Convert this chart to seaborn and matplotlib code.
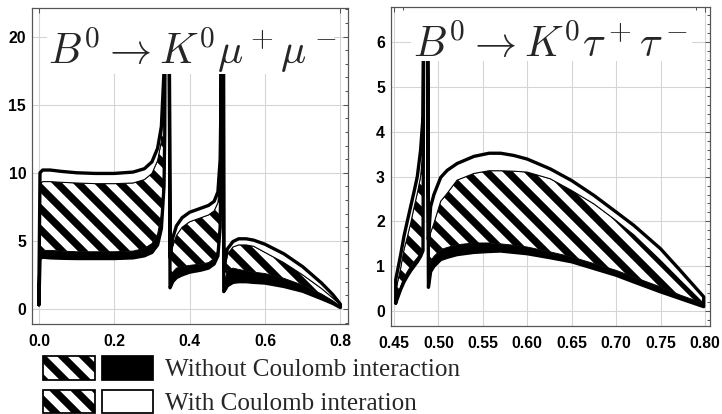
import numpy as np
import matplotlib
matplotlib.use('Agg')
import matplotlib.pyplot as plt
from matplotlib.patches import Patch, Rectangle
from matplotlib.legend_handler import HandlerTuple
from matplotlib.ticker import MultipleLocator
import seaborn as sns

# ---- left panel: B0 -> K0 mu+ mu- ----
# u2 = top of "with Coulomb" band, u1 = top of "without" band,
# l2 = bottom of "with" band, l1 = bottom of "without" band
mu_x = [0.000, 0.003, 0.010, 0.030, 0.060, 0.100, 0.150, 0.200, 0.250, 0.280,
        0.300, 0.315, 0.325, 0.332, 0.334, 0.337, 0.343, 0.348, 0.355, 0.365,
        0.380, 0.400, 0.430, 0.450, 0.465, 0.475, 0.481, 0.4835, 0.4855, 0.4885,
        0.4905, 0.495, 0.500, 0.515, 0.530, 0.550, 0.570, 0.600, 0.650, 0.700,
        0.750, 0.780, 0.800]
mu_u2 = [1.5, 10.0, 10.2, 10.2, 10.1, 10.0, 9.95, 9.95, 10.05, 10.3,
         10.8, 11.8, 13.4, 17.5, 22.0, 45.0, 45.0, 3.8, 5.2, 6.1,
         6.7, 7.1, 7.4, 7.6, 7.9, 8.6, 11.0, 16.0, 45.0, 45.0,
         3.0, 3.6, 4.4, 4.95, 5.15, 5.15, 5.05, 4.75, 4.05, 3.1,
         1.9, 1.05, 0.35]
mu_u1 = [1.2, 9.2, 9.35, 9.35, 9.3, 9.25, 9.2, 9.2, 9.25, 9.5,
         9.95, 10.9, 12.3, 16.5, 21.0, 45.0, 45.0, 3.5, 4.6, 5.4,
         6.0, 6.4, 6.7, 6.9, 7.2, 7.8, 10.0, 15.0, 45.0, 45.0,
         2.6, 3.2, 4.0, 4.55, 4.7, 4.7, 4.6, 4.15, 3.4, 2.5,
         1.5, 0.8, 0.3]
mu_l2 = [0.6, 4.2, 4.3, 4.3, 4.25, 4.2, 4.2, 4.2, 4.25, 4.45,
         4.8, 5.5, 6.9, 10.5, 15.0, 45.0, 45.0, 2.0, 2.7, 3.0,
         3.1, 3.2, 3.3, 3.4, 3.7, 4.3, 6.5, 12.0, 45.0, 45.0,
         1.8, 2.3, 2.8, 3.0, 2.9, 2.8, 2.7, 2.6, 2.25, 1.75,
         1.1, 0.6, 0.2]
mu_l1 = [0.3, 3.7, 3.8, 3.75, 3.72, 3.7, 3.7, 3.7, 3.75, 3.9,
         4.15, 4.7, 5.9, 9.0, 13.0, 45.0, 45.0, 1.55, 2.0, 2.3,
         2.5, 2.7, 2.85, 3.0, 3.3, 3.9, 6.0, 11.0, 45.0, 45.0,
         1.27, 1.45, 1.7, 1.95, 2.0, 2.0, 1.95, 1.9, 1.65, 1.3,
         0.75, 0.4, 0.1]

# ---- right panel: B0 -> K0 tau+ tau- ----
tau_x = [0.452, 0.4575, 0.4613, 0.465, 0.4688, 0.4725, 0.4763, 0.480, 0.4827, 0.4845,
         0.4870, 0.4888, 0.4913, 0.495, 0.5026, 0.510, 0.521, 0.540, 0.557, 0.570,
         0.585, 0.600, 0.626, 0.650, 0.675, 0.700, 0.720, 0.750, 0.772, 0.7985]
tau_u2 = [0.7, 1.25, 1.67, 2.0, 2.33, 2.65, 3.0, 3.59, 4.33, 12.0,
          12.0, 1.6, 2.33, 2.6, 2.98, 3.14, 3.29, 3.45, 3.52, 3.52,
          3.47, 3.39, 3.17, 2.91, 2.58, 2.21, 1.91, 1.39, 0.91, 0.32]
tau_u1 = [0.45, 0.95, 1.37, 1.65, 1.96, 2.3, 2.63, 3.0, 3.6, 12.0,
          12.0, 1.4, 1.75, 1.96, 2.45, 2.63, 2.92, 3.07, 3.13, 3.13,
          3.12, 3.10, 2.95, 2.69, 2.39, 2.02, 1.70, 1.13, 0.69, 0.17]
tau_l2 = [0.25, 0.55, 0.75, 0.88, 1.0, 1.1, 1.19, 1.3, 1.45, 12.0,
          12.0, 0.8, 1.12, 1.22, 1.37, 1.42, 1.48, 1.52, 1.52, 1.50,
          1.47, 1.43, 1.32, 1.21, 1.06, 0.91, 0.76, 0.54, 0.36, 0.17]
tau_l1 = [0.18, 0.48, 0.65, 0.78, 0.9, 1.0, 1.1, 1.22, 1.35, 12.0,
          12.0, 0.53, 0.88, 1.0, 1.15, 1.2, 1.26, 1.31, 1.33, 1.34,
          1.31, 1.28, 1.19, 1.10, 0.95, 0.80, 0.65, 0.43, 0.28, 0.10]

mu_xticks = [0.0, 0.2, 0.4, 0.6, 0.8]
mu_yticks = [0, 5, 10, 15, 20]
tau_xticks = [0.45, 0.50, 0.55, 0.60, 0.65, 0.70, 0.75, 0.80]
tau_yticks = [0, 1, 2, 3, 4, 5, 6]
titles = [r'$B^0 \to K^0\mu^+\mu^-$', r'$B^0 \to K^0\tau^+\tau^-$']
legend_labels = ['Without Coulomb interaction', 'With Coulomb interation']

sns.set_theme(style='white')
plt.rcParams['font.family'] = ['Liberation Sans', 'DejaVu Sans']
plt.rcParams['mathtext.fontset'] = 'cm'
plt.rcParams['hatch.linewidth'] = 4.2
plt.rcParams['hatch.color'] = 'black'
HATCH = '\\' * 2

DPI = 126
W, H = 722, 414
fig = plt.figure(figsize=(W / DPI, H / DPI), dpi=DPI)
fig.patch.set_facecolor('white')
ax1 = fig.add_axes([32.3 / W, 1 - 323.5 / H, 316 / W, 315.5 / H])
ax2 = fig.add_axes([391 / W, 1 - 325.5 / H, 319 / W, 318.5 / H])


def draw_bands(ax, x, u2, u1, l2, l1):
    x, u2, u1, l2, l1 = map(np.asarray, (x, u2, u1, l2, l1))
    # black strip, hatched overlap, white strip
    ax.fill_between(x, l1, l2, facecolor='black', edgecolor='black', lw=0.5, zorder=2)
    ax.fill_between(x, l2, u1, facecolor='white', edgecolor='black', hatch=HATCH, lw=0.5, zorder=2)
    ax.fill_between(x, u1, u2, facecolor='white', edgecolor='black', lw=0.6, zorder=2)
    # thick outline round the whole band
    ox = np.concatenate([x, x[::-1], x[:1]])
    oy = np.concatenate([l1, u2[::-1], l1[:1]])
    sns.lineplot(x=ox, y=oy, sort=False, estimator=None, color='black', lw=1.9,
                 solid_joinstyle='round', ax=ax, zorder=2.2)


def style_axes(ax, xticks, yticks, xfmt, xlim, ylim, xminor, yminor):
    ax.set_facecolor('white')
    ax.set_xlim(*xlim)
    ax.set_ylim(*ylim)
    ax.set_xticks(xticks, [xfmt.format(v) for v in xticks], fontweight='bold', fontsize=9)
    ax.set_yticks(yticks, [str(v) for v in yticks], fontweight='bold', fontsize=9)
    ax.xaxis.set_minor_locator(MultipleLocator(xminor))
    ax.yaxis.set_minor_locator(MultipleLocator(yminor))
    ax.tick_params(which='both', direction='in', top=True, right=True,
                   color='#555555', width=0.6, labelcolor='black')
    ax.tick_params(which='major', length=3.0)
    ax.tick_params(which='minor', length=1.8)
    ax.tick_params(axis='x', pad=6.0)
    ax.tick_params(axis='y', pad=3.5)
    ax.grid(True, which='major', color='#d4d4d4', lw=0.6)
    ax.set_axisbelow(True)
    for s in ax.spines.values():
        s.set_color('#555555')
        s.set_linewidth(0.7)
    ax.set_xlabel('')
    ax.set_ylabel('')


def add_title(ax, text, x, y, box_x0, box_x1, box_y0):
    # white panel behind the title that also hides the resonance peaks
    ax.add_patch(Rectangle((box_x0, box_y0), box_x1 - box_x0, 1 - box_y0,
                           transform=ax.transAxes, facecolor='white', edgecolor='none',
                           zorder=2.4, clip_on=False))
    ax.text(x, y, text, transform=ax.transAxes, fontsize=24,
            ha='left', va='baseline', zorder=5)


draw_bands(ax1, mu_x, mu_u2, mu_u1, mu_l2, mu_l1)
draw_bands(ax2, tau_x, tau_u2, tau_u1, tau_l2, tau_l1)

style_axes(ax1, mu_xticks, mu_yticks, '{:.1f}', (-0.0175, 0.821), (-1.07, 22.1), 0.05, 1)
style_axes(ax2, tau_xticks, tau_yticks, '{:.2f}', (0.4467, 0.8056), (-0.32, 6.78), 0.01, 0.2)

add_title(ax1, titles[0], 0.05, 0.822, 0.0465, 0.955, 0.79)
add_title(ax2, titles[1], 0.07, 0.842, 0.064, 0.945, 0.83)

hatch_patch = Patch(facecolor='white', edgecolor='black', hatch=HATCH, lw=1)
black_patch = Patch(facecolor='black', edgecolor='black', lw=1)
white_patch = Patch(facecolor='white', edgecolor='black', lw=1)
fig.legend([(hatch_patch, black_patch), (hatch_patch, white_patch)], legend_labels,
           handler_map={tuple: HandlerTuple(ndivide=None, pad=0.28)},
           loc='upper left', bbox_to_anchor=(43 / W, 1 - 356 / H),
           frameon=False, borderpad=0, borderaxespad=0,
           handlelength=4.37, handleheight=1.07, handletextpad=0.48,
           labelspacing=0.32, prop={'family': ['Liberation Serif'], 'size': 14.4})

fig.savefig('out.png', dpi=DPI, facecolor='white')
